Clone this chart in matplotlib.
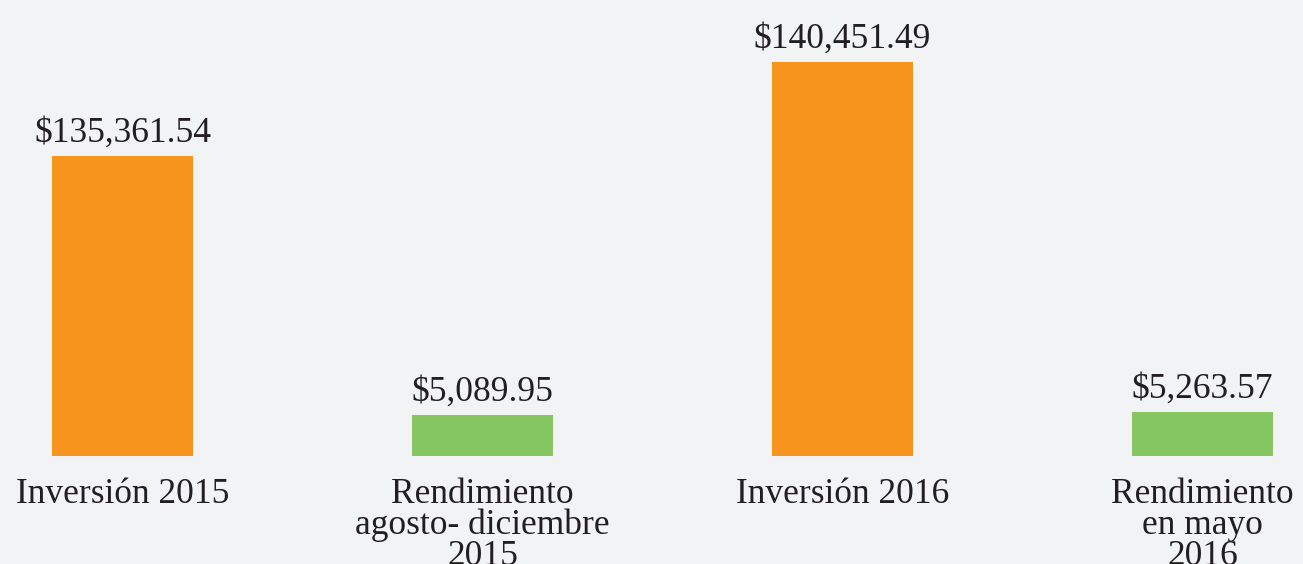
import numpy as np
import matplotlib
matplotlib.use("Agg")
from matplotlib import pyplot as plt

# Data
categories = ["Inversión 2015", "Rendimiento\nagosto- diciembre\n2015",
              "Inversión 2016", "Rendimiento\nen mayo\n2016"]
values = [135361.54, 5089.95, 140451.49, 5263.57]
value_labels = ["$135,361.54", "$5,089.95", "$140,451.49", "$5,263.57"]

ORANGE = "#F7941D"
GREEN = "#86C662"
BG = "#F2F3F5"
TEXT = "#231F20"
colors = [ORANGE, GREEN, ORANGE, GREEN]

# The original graphic is not drawn to a linear scale; mimic its visual
# bar heights with a piecewise scale (value -> relative height).
SCALE_VALS = np.array([0, 5089.95, 5263.57, 135361.54, 140451.49, 200000.0])
SCALE_POS = np.array([0, 40.5, 43.5, 299.5, 393.5, 455.5])


def forward(v):
	return np.interp(v, SCALE_VALS, SCALE_POS)


def inverse(p):
	return np.interp(p, SCALE_POS, SCALE_VALS)


plt.rcParams['font.family'] = ['Liberation Serif', 'DejaVu Serif']

fig = plt.figure(figsize=(13.03, 5.64), dpi=100)
fig.patch.set_facecolor(BG)
ax = fig.add_axes([0, 108.5 / 564, 1, 455.5 / 564])
ax.set_facecolor(BG)
ax.set_yscale('function', functions=(forward, inverse))

x = np.arange(len(values))
ax.bar(x, values, width=141 / 360, color=colors)
ax.set_xlim(-122.5 / 360, (1303 - 122.5) / 360)
ax.set_ylim(0, 200000)
ax.axis('off')

for xi, v, lab in zip(x, values, value_labels):
	ax.annotate(lab, (xi, v), xytext=(0, 10), textcoords='offset points',
		ha='center', va='baseline', fontsize=25.5, color=TEXT)

for xi, cat in zip(x, categories):
	for i, line in enumerate(cat.split("\n")):
		ax.annotate(line, (xi, 0), xytext=(0, -34.5 - 22 * i), textcoords='offset points',
			ha='center', va='baseline', fontsize=25.5, color=TEXT, annotation_clip=False)

fig.savefig("out.png", dpi=100, facecolor=BG)
